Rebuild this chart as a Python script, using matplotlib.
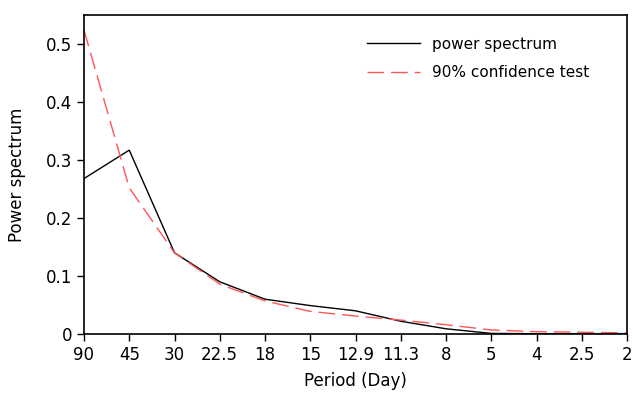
import matplotlib
matplotlib.use("Agg")
import matplotlib.pyplot as plt

periods = ["90", "45", "30", "22.5", "18", "15", "12.9", "11.3", "8", "5", "4", "2.5", "2"]
power = [0.268, 0.317, 0.140, 0.090, 0.060, 0.049, 0.040, 0.022, 0.009, 0.001, 0.0005, 0.0, 0.0]
conf90 = [0.524, 0.252, 0.140, 0.086, 0.057, 0.039, 0.031, 0.024, 0.016, 0.007, 0.004, 0.003, 0.002]
yticks = [0, 0.1, 0.2, 0.3, 0.4, 0.5]
ylabels = ["0", "0.1", "0.2", "0.3", "0.4", "0.5"]

fig = plt.figure(figsize=(6.33, 3.94), dpi=100)
ax = fig.add_axes([84/633, 60/394, 543/633, 319/394])
x = list(range(len(periods)))
ax.plot(x, power, color="black", lw=1.0, label="power spectrum")
ax.plot(x, conf90, color="#ff5555", lw=1.0, dashes=(12, 5), label="90% confidence test")
ax.set_xlim(0, len(periods) - 1)
ax.set_ylim(0, 0.55)
ax.set_xticks(x)
ax.set_xticklabels(periods)
ax.set_yticks(yticks)
ax.set_yticklabels(ylabels)
ax.tick_params(direction="out", length=5, width=1, labelsize=12, top=False, right=False)
for s in ax.spines.values():
    s.set_linewidth(1.2)
ax.set_xlabel("Period (Day)", fontsize=12, labelpad=6)
ax.set_ylabel("Power spectrum", fontsize=12, labelpad=14)
leg = ax.legend(loc="upper right", frameon=False, fontsize=11, handlelength=3.5,
                borderaxespad=0.8, labelspacing=0.9, bbox_to_anchor=(0.965, 0.99))
fig.savefig("out.png", dpi=100)
